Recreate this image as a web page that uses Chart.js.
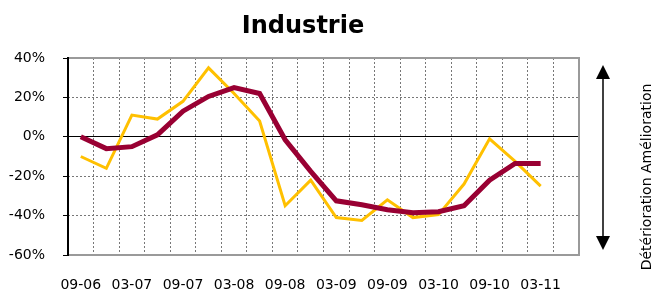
<!DOCTYPE html>
<html>
<head>
<meta charset="utf-8">
<script src="https://cdn.jsdelivr.net/npm/chart.js@4"></script>
<style>
  body { margin: 0; background: #fff; }
  #wrap { width: 653px; height: 293px; }
</style>
</head>
<body>
<div id="wrap"><canvas id="chart"></canvas></div>
<script>
// quarters 09-06 .. 06-11, only every other one is labelled
const quarters = ['09-06', '12-06', '03-07', '06-07', '09-07', '12-07', '03-08', '06-08', '09-08', '12-08',
    '03-09', '06-09', '09-09', '12-09', '03-10', '06-10', '09-10', '12-10', '03-11', '06-11'];
const redSeries = [0, -6, -5, 1, 13, 20.5, 25, 22, -1.5, -17.5, -32.5, -34.5, -37, -38.5, -38, -35, -22, -13.5, -13.5];
const yellowSeries = [-10, -16, 11, 9, 18, 35, 22, 8, -35, -22, -41, -42.5, -32, -41, -39.5, -24, -1, -12.5, -25];
const yTicks = { min: -60, max: 40, step: 20 };

const FONT = 'DejaVu Sans, Verdana, sans-serif';

const decor = {
    id: 'decor',
    afterDraw(chart) {
        const ctx = chart.ctx;
        const a = chart.chartArea;
        ctx.save();
        // grey frame top / right / bottom
        ctx.strokeStyle = '#9a9a9a';
        ctx.lineWidth = 2;
        ctx.beginPath();
        ctx.moveTo(a.left, a.top);
        ctx.lineTo(a.right, a.top);
        ctx.lineTo(a.right, a.bottom);
        ctx.lineTo(a.left, a.bottom);
        ctx.stroke();
        // black left axis
        ctx.strokeStyle = '#000';
        ctx.beginPath();
        ctx.moveTo(a.left, a.top - 1);
        ctx.lineTo(a.left, a.bottom + 1);
        ctx.stroke();

        // title
        ctx.fillStyle = '#000';
        ctx.font = 'bold 24px ' + FONT;
        ctx.textAlign = 'center';
        ctx.textBaseline = 'middle';
        ctx.fillText('Industrie', 303, 27);

        // double arrow
        const ax = 603;
        ctx.lineWidth = 1.5;
        ctx.beginPath();
        ctx.moveTo(ax, 76);
        ctx.lineTo(ax, 238);
        ctx.stroke();
        ctx.beginPath();
        ctx.moveTo(ax, 65);
        ctx.lineTo(ax - 7, 79);
        ctx.lineTo(ax + 7, 79);
        ctx.closePath();
        ctx.fill();
        ctx.beginPath();
        ctx.moveTo(ax, 250);
        ctx.lineTo(ax - 7, 236);
        ctx.lineTo(ax + 7, 236);
        ctx.closePath();
        ctx.fill();

        // rotated caption
        ctx.translate(647, 177);
        ctx.rotate(-Math.PI / 2);
        ctx.font = '14px ' + FONT;
        ctx.fillText('Détérioration Amélioration', 0, 0);
        ctx.restore();
    }
};

new Chart(document.getElementById('chart'), {
    type: 'line',
    data: {
        labels: quarters,
        datasets: [{
            data: redSeries,
            borderColor: '#990033',
            borderWidth: 5,
            pointRadius: 0,
            tension: 0
        }, {
            data: yellowSeries,
            borderColor: '#FFC000',
            borderWidth: 3,
            pointRadius: 0,
            tension: 0
        }]
    },
    options: {
        responsive: true,
        maintainAspectRatio: false,
        animation: false,
        layout: { padding: { top: 58, right: 74, bottom: 0, left: 0 } },
        plugins: {
            legend: { display: false },
            tooltip: { enabled: false }
        },
        scales: {
            x: {
                offset: true,
                grid: {
                    offset: true,
                    color: '#777',
                    drawTicks: false
                },
                border: { display: false, dash: [2, 2] },
                ticks: {
                    autoSkip: false,
                    maxRotation: 0,
                    padding: 22,
                    color: '#000',
                    font: { family: FONT, size: 14 },
                    callback: (v, i) => i % 2 === 0 ? quarters[i] : ''
                },
                afterFit: s => { s.height = 38; }
            },
            y: {
                min: yTicks.min,
                max: yTicks.max,
                grid: {
                    color: c => c.tick && c.tick.value === 0 ? '#000' : '#777',
                    tickColor: '#000',
                    tickLength: 5,
                    tickBorderDash: []
                },
                border: {
                    display: false,
                    dash: c => c.tick && c.tick.value === 0 ? [] : [2, 2]
                },
                ticks: {
                    stepSize: yTicks.step,
                    padding: 18,
                    color: '#000',
                    font: { family: FONT, size: 14 },
                    callback: v => v + '%'
                },
                afterFit: s => { s.width = 68; }
            }
        }
    },
    plugins: [decor]
});
</script>
</body>
</html>
